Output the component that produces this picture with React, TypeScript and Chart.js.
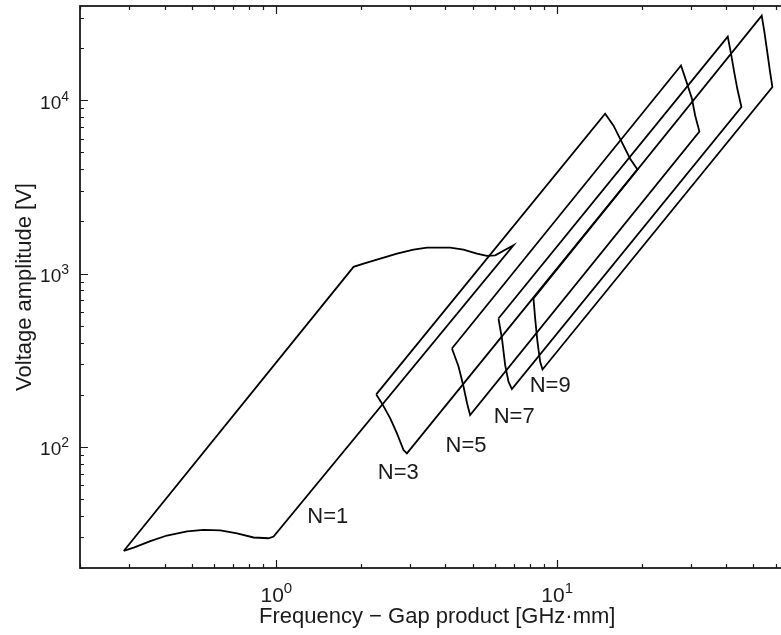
import React, { useEffect, useRef } from "react";
import { Chart, registerables } from "chart.js";

Chart.register(...registerables);

// Axis ranges (log-log)
const xMin = 0.2;
const xMax = 70;
const yMin = 20;
const yMax = 35000;

// Major tick values and their exponent labels (10^n)
const xMajorTicks = [1, 10];
const xTickExponents = ["0", "1"];
const yMajorTicks = [100, 1000, 10000];
const yTickExponents = ["2", "3", "4"];

const xTitle = "Frequency \u2212 Gap product [GHz\u00B7mm]";
const yTitle = "Voltage amplitude [V]";

// Susceptibility zone boundaries (closed outlines), x = f·d [GHz·mm], y = V [V]
const n1X = [0.2862, 1.884, 2.045, 2.345, 2.689, 3.08, 3.44, 4.16, 4.64, 5.18, 5.62, 6.02, 6.99, 0.978, 0.939, 0.83, 0.725, 0.632, 0.551, 0.481, 0.408, 0.356, 0.3106, 0.2862];
const n1Y = [25.08, 1093, 1142, 1220, 1304, 1375, 1412, 1412, 1375, 1304, 1265, 1275, 1456, 30.4, 29.7, 30.0, 31.7, 33.0, 33.2, 32.5, 30.8, 28.6, 26.24, 25.08];

const n3X = [2.269, 14.82, 15.86, 16.99, 18.19, 19.32, 2.918, 2.838, 2.689, 2.545, 2.378, 2.269];
const n3Y = [200.8, 8360, 7159, 5742, 4601, 3993, 91.7, 95.9, 119.6, 146.0, 178.1, 200.8];

const n5X = [4.22, 27.6, 28.9, 30.2, 31.0, 32.1, 4.9, 4.78, 4.64, 4.455, 4.22];
const n5Y = [369.6, 15870, 12730, 10200, 8170, 6610, 152.5, 178, 223, 291, 369.6];

const n7X = [6.18, 40.5, 41.5, 42.7, 43.8, 45.3, 6.9, 6.71, 6.53, 6.36, 6.18];
const n7Y = [550.4, 23320, 18960, 14540, 11650, 9140, 215.3, 237.6, 296, 422, 550.4];

const n9X = [8.237, 53.5, 54.7, 56.0, 57.3, 58.4, 8.87, 8.7, 8.51, 8.35, 8.237];
const n9Y = [717.7, 30820, 24730, 18960, 14540, 11920, 279.7, 309.8, 404, 550, 717.7];

// Zone labels
const zoneLabels = ["N=1", "N=3", "N=5", "N=7", "N=9"];
const zoneLabelX = [1.525, 2.72, 4.74, 7.03, 9.44];
const zoneLabelY = [40.0, 71.8, 102.8, 151, 227];

const FONT = "'Liberation Sans', Arial, Helvetica, sans-serif";
const INK = "#1a1a1a";

function minorTicks(min: number, max: number): number[] {
  const out: number[] = [];
  const k0 = Math.floor(Math.log10(min));
  const k1 = Math.ceil(Math.log10(max));
  for (let k = k0; k <= k1; k++) {
    for (let m = 2; m <= 9; m++) {
      const v = m * Math.pow(10, k);
      if (v >= min && v <= max) out.push(v);
    }
  }
  return out;
}

const framePlugin = {
  id: "matlabFrame",
  afterDatasetsDraw(chart: any) {
    const { ctx, chartArea: a, scales } = chart;
    const xs = scales.x;
    const ys = scales.y;
    ctx.save();
    ctx.strokeStyle = INK;
    ctx.lineWidth = 1.8;
    ctx.strokeRect(a.left, a.top, a.right - a.left, a.bottom - a.top);

    const major = 8;
    const minor = 4;
    ctx.lineWidth = 1.2;
    ctx.beginPath();
    const xTickSet: [number, number][] = [
      ...xMajorTicks.map((v) => [v, major] as [number, number]),
      ...minorTicks(xMin, xMax).map((v) => [v, minor] as [number, number]),
    ];
    for (const [v, len] of xTickSet) {
      const px = Math.round(xs.getPixelForValue(v)) + 0.5;
      ctx.moveTo(px, a.bottom);
      ctx.lineTo(px, a.bottom - len);
      ctx.moveTo(px, a.top);
      ctx.lineTo(px, a.top + len);
    }
    const yTickSet: [number, number][] = [
      ...yMajorTicks.map((v) => [v, major] as [number, number]),
      ...minorTicks(yMin, yMax).map((v) => [v, minor] as [number, number]),
    ];
    for (const [v, len] of yTickSet) {
      const py = Math.round(ys.getPixelForValue(v)) + 0.5;
      ctx.moveTo(a.left, py);
      ctx.lineTo(a.left + len, py);
      ctx.moveTo(a.right, py);
      ctx.lineTo(a.right - len, py);
    }
    ctx.stroke();

    // Tick labels 10^n
    ctx.fillStyle = INK;
    ctx.textBaseline = "alphabetic";
    ctx.textAlign = "left";
    const xBig = `21px ${FONT}`;
    const xExp = `15px ${FONT}`;
    xMajorTicks.forEach((v, i) => {
      const px = xs.getPixelForValue(v);
      ctx.font = xBig;
      const w1 = ctx.measureText("10").width;
      ctx.font = xExp;
      const w2 = ctx.measureText(xTickExponents[i]).width;
      const x0 = px - (w1 + w2) / 2;
      ctx.font = xBig;
      ctx.fillText("10", x0, a.bottom + 34);
      ctx.font = xExp;
      ctx.fillText(xTickExponents[i], x0 + w1, a.bottom + 25);
    });
    const yBig = `19px ${FONT}`;
    const yExp = `14px ${FONT}`;
    yMajorTicks.forEach((v, i) => {
      const py = ys.getPixelForValue(v);
      ctx.font = yBig;
      const w1 = ctx.measureText("10").width;
      ctx.font = yExp;
      const w2 = ctx.measureText(yTickExponents[i]).width;
      const right = a.left - 11;
      const x0 = right - w1 - w2;
      ctx.font = yBig;
      ctx.fillText("10", x0, py + 8.5);
      ctx.font = yExp;
      ctx.fillText(yTickExponents[i], x0 + w1, py + 0.5);
    });

    // Axis titles
    ctx.font = `22px ${FONT}`;
    ctx.textAlign = "center";
    ctx.fillText(xTitle, (a.left + a.right) / 2, 623);
    ctx.save();
    ctx.translate(31, (a.top + a.bottom) / 2);
    ctx.rotate(-Math.PI / 2);
    ctx.fillText(yTitle, 0, 0);
    ctx.restore();

    // Zone labels
    ctx.font = `22px ${FONT}`;
    ctx.textAlign = "center";
    ctx.textBaseline = "middle";
    zoneLabels.forEach((t, i) => {
      ctx.fillText(t, xs.getPixelForValue(zoneLabelX[i]), ys.getPixelForValue(zoneLabelY[i]) + 1);
    });
    ctx.restore();
  },
};

function zone(label: string, xsArr: number[], ysArr: number[]) {
  return {
    label,
    data: xsArr.map((x, i) => ({ x, y: ysArr[i] })),
    showLine: true,
    borderColor: "#000",
    borderWidth: 1.8,
    pointRadius: 0,
    fill: false,
    tension: 0,
  };
}

export default function App() {
  const ref = useRef<HTMLCanvasElement>(null);
  useEffect(() => {
    const canvas = ref.current;
    if (!canvas) return;
    const chart = new Chart(canvas, {
      type: "scatter",
      data: {
        datasets: [
          zone("N=1", n1X, n1Y),
          zone("N=3", n3X, n3Y),
          zone("N=5", n5X, n5Y),
          zone("N=7", n7X, n7Y),
          zone("N=9", n9X, n9Y),
        ],
      },
      options: {
        responsive: false,
        animation: false,
        devicePixelRatio: 1,
        events: [],
        layout: { padding: { left: 80, top: 6, right: 5.5, bottom: 67 } },
        plugins: { legend: { display: false }, tooltip: { enabled: false } },
        scales: {
          x: { type: "logarithmic", min: xMin, max: xMax, display: false },
          y: { type: "logarithmic", min: yMin, max: yMax, display: false },
        },
      },
      plugins: [framePlugin],
    } as any);
    return () => chart.destroy();
  }, []);
  return (
    <div
      style={{
        position: "fixed",
        left: 0,
        top: 0,
        width: 781,
        height: 635,
        overflow: "hidden",
        background: "#fff",
      }}
    >
      <canvas ref={ref} width={800} height={635} style={{ display: "block", width: 800, height: 635 }} />
    </div>
  );
}
